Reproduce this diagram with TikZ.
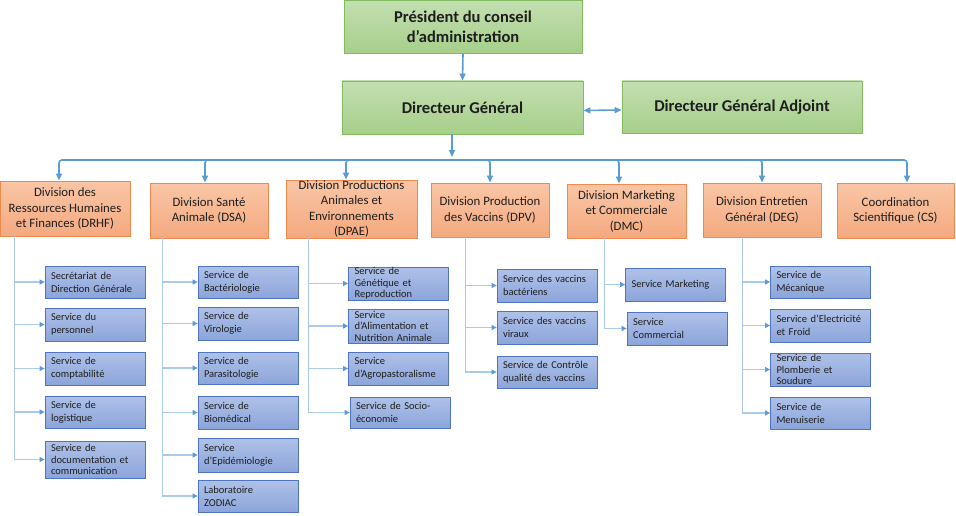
\documentclass[tikz,border=0pt]{standalone}
\usepackage{fontspec}
\setmainfont{Carlito}
\usetikzlibrary{arrows.meta}
\definecolor{vertclair}{HTML}{C3DFB1}
\definecolor{vertfonce}{HTML}{A6CF8A}
\definecolor{vertbord}{HTML}{84BA60}
\definecolor{orclair}{HTML}{F9C6A6}
\definecolor{orfonce}{HTML}{F4A97F}
\definecolor{orbord}{HTML}{EE8A4E}
\definecolor{bleuclair}{HTML}{AEC1E8}
\definecolor{bleufonce}{HTML}{8CA5DA}
\definecolor{bleubord}{HTML}{4F74C0}
\definecolor{fil}{HTML}{5B9BD5}
\definecolor{filclair}{HTML}{A9CBE9}
\definecolor{texte}{HTML}{1E1E1E}
\begin{document}
\begin{tikzpicture}[x=1pt,y=-1pt,
  chef/.style={draw=vertbord,top color=vertclair,bottom color=vertfonce,line width=0.9pt,
    font=\fontsize{16.5}{20}\selectfont\bfseries,text=texte,align=center,
    minimum height=53pt,inner sep=0pt},
  division/.style={draw=orbord,top color=orclair,bottom color=orfonce,line width=0.9pt,
    font=\fontsize{12.8}{15.5}\selectfont,text=texte,align=center,
    minimum height=55pt,inner sep=0pt},
  service/.style={draw=bleubord,top color=bleuclair,bottom color=bleufonce,line width=0.8pt,
    font=\fontsize{10.5}{13}\selectfont,text=texte,align=left,
    text width=88pt,inner xsep=6pt,inner ysep=0pt,minimum height=32pt},
  serre/.style={service,font=\fontsize{10.5}{11.5}\selectfont},
  fleche/.style={draw=fil,line width=1.6pt,-{Triangle[length=7pt,width=6pt]}},
  branche/.style={draw=filclair,line width=1.1pt,-{Triangle[length=5pt,width=5pt,color=fil]}}
]
\useasboundingbox (0,0) rectangle (956,516);

% direction
\node[chef,minimum width=238pt] (pca) at (463,27) {Président du conseil\\d’administration};
\node[chef,minimum width=241pt] (dg) at (462.5,107.5) {Directeur Général};
\node[chef,minimum width=240pt,minimum height=52pt] (dga) at (742,107) {Directeur Général Adjoint};

% divisions
\node[division,minimum width=130pt] (drhf) at (65,208.5) {Division des\\Ressources Humaines\\et Finances (DRHF)};
\node[division,minimum width=118pt] (dsa) at (209,210.5) {Division Santé\\Animale (DSA)};
\node[division,minimum width=131pt,minimum height=58pt] (dpae) at (351.5,209) {Division Productions\\Animales et\\Environnements\\(DPAE)};
\node[division,minimum width=118pt,minimum height=54pt] (dpv) at (490,210) {Division Production\\des Vaccins (DPV)};
\node[division,minimum width=119pt,minimum height=54pt] (dmc) at (626.5,211) {Division Marketing\\et Commerciale\\(DMC)};
\node[division,minimum width=118pt,minimum height=54pt] (deg) at (762,210) {Division Entretien\\Général (DEG)};
\node[division,minimum width=117pt] (cs) at (895.5,210.5) {Coordination\\Scientifique (CS)};

% services DRHF
\node[service] (r1) at (95,282) {Secrétariat de\\Direction Générale};
\node[service,minimum height=33pt] (r2) at (95,324.5) {Service du\\personnel};
\node[service,minimum height=33pt] (r3) at (95,368.5) {Service de\\comptabilité};
\node[service] (r4) at (95,412) {Service de\\logistique};
\node[serre,minimum height=37pt] (r5) at (95,459.5) {Service de\\documentation et\\communication};

% services DSA
\node[service] (a1) at (248,282) {Service de\\Bactériologie};
\node[service,minimum height=33pt] (a2) at (248,323.5) {Service de\\Virologie};
\node[service] (a3) at (248,368) {Service de\\Parasitologie};
\node[service,minimum height=33pt] (a4) at (248,412.5) {Service de\\Biomédical};
\node[service,minimum height=34pt] (a5) at (248,455) {Service\\d’Epidémiologie};
\node[service] (a6) at (248,496) {Laboratoire\\ZODIAC};

% services DPAE
\node[serre,minimum height=33pt] (p1) at (398.5,283.5) {Service de\\Génétique et\\Reproduction};
\node[serre,minimum height=34pt] (p2) at (398.5,326) {Service\\d’Alimentation et\\Nutrition Animale};
\node[service,minimum height=33pt] (p3) at (398.5,368.5) {Service\\d’Agropastoralisme};
\node[service,minimum height=31pt] (p4) at (400,412.5) {Service de Socio-\\économie};

% services DPV
\node[service,minimum height=33pt] (v1) at (547,285.5) {Service des vaccins\\bactériens};
\node[service,minimum height=33pt] (v2) at (547,327.5) {Service des vaccins\\viraux};
\node[service] (v3) at (547,372) {Service de Contrôle\\qualité des vaccins};

% services DMC
\node[service,minimum height=33pt] (m1) at (675.5,284.5) {Service Marketing};
\node[service,minimum height=33pt] (m2) at (677,328.5) {Service\\Commercial};

% services DEG
\node[service] (e1) at (820.5,282) {Service de\\Mécanique};
\node[service,minimum height=33pt] (e2) at (820.5,325.5) {Service d’Electricité\\et Froid};
\node[serre,minimum height=33pt] (e3) at (820.5,369.5) {Service de\\Plomberie et\\Soudure};
\node[service] (e4) at (820.5,413) {Service de\\Menuiserie};

% liaisons du haut
\draw[fleche] (pca.south) -- (dg.north);
\draw[fleche,{Triangle[length=7pt,width=6pt]}-{Triangle[length=7pt,width=6pt]}]
  ([yshift=-3pt]dg.east) -- ([yshift=-3pt]dga.west);
\coordinate (bus) at (452,160);
\draw[fleche,shorten >=3pt] (dg.south -| bus) -- (bus);
\foreach \d/\dx in {drhf/-6pt,dsa/-4pt,dpae/-5.5pt,dpv/0pt,dmc/-7.5pt,deg/0pt,cs/11.5pt}
  \draw[fleche,rounded corners=3pt] (bus) -| ([xshift=\dx]\d.north);

% lignes verticales des divisions
\coordinate (drhfv) at ([xshift=15pt]drhf.south west);
\coordinate (dsav) at ([xshift=13pt]dsa.south west);
\coordinate (dpaev) at ([xshift=23pt]dpae.south west);
\coordinate (dpvv) at ([xshift=35pt]dpv.south west);
\coordinate (dmcv) at ([xshift=38pt]dmc.south west);
\coordinate (degv) at ([xshift=40pt]deg.south west);

\foreach \s in {r1,r2,r3,r4,r5} \draw[branche] (drhfv) |- (\s.west);
\foreach \s in {a1,a2,a3,a4,a5,a6} \draw[branche] (dsav) |- (\s.west);
\foreach \s in {p1,p2,p3,p4} \draw[branche] (dpaev) |- (\s.west);
\foreach \s in {v1,v2,v3} \draw[branche] (dpvv) |- (\s.west);
\foreach \s in {m1,m2} \draw[branche] (dmcv) |- (\s.west);
\foreach \s in {e1,e2,e3,e4} \draw[branche] (degv) |- (\s.west);
\end{tikzpicture}
\end{document}
